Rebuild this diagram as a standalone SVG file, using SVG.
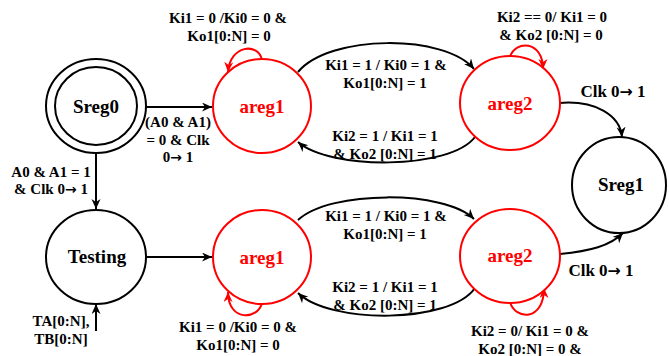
<svg xmlns="http://www.w3.org/2000/svg" width="669" height="356" viewBox="0 0 669 356">
  <defs>
    <marker id="ah" markerUnits="userSpaceOnUse" markerWidth="11" markerHeight="10" refX="10" refY="4.5" orient="auto">
      <path d="M0,0 L10,4.5 L0,9 L3,4.5 z" fill="#000"/>
    </marker>
    <marker id="ahr" markerUnits="userSpaceOnUse" markerWidth="11" markerHeight="10" refX="10" refY="4.5" orient="auto">
      <path d="M0,0 L10,4.5 L0,9 L3,4.5 z" fill="#f00"/>
    </marker>
    <style>
      .st { fill: #fff; stroke: #000; stroke-width: 2; }
      .ac { fill: #fff; stroke: #f00; stroke-width: 2; }
      .nm { font-family: "Liberation Serif", "Times New Roman", serif; font-weight: bold; font-size: 19px; text-anchor: middle; fill: #000; }
      .nmr { fill: #f00; }
      .lb { font-family: "Liberation Serif", "Times New Roman", serif; font-weight: bold; font-size: 15px; text-anchor: middle; fill: #000; }
      .clk { font-size: 17px; }
      .ar { font-family: "DejaVu Sans", sans-serif; font-weight: bold; font-size: 0.93em; }
      .ed { fill: none; stroke: #000; stroke-width: 2; marker-end: url(#ah); }
      .lp { fill: none; stroke: #f00; stroke-width: 2; marker-end: url(#ahr); }
    </style>
  </defs>

  <rect width="669" height="356" fill="#fff"/>

  <!-- transitions -->
  <g id="connectors">
    <path class="ed" d="M146,107 L212,107"/>
    <path class="ed" d="M96,153 L96,209"/>
    <path class="ed" d="M96,331 L96,304"/>
    <path class="ed" d="M146,257 L212,257"/>
    <path class="ed" d="M298,72 C330,34 445,34 474,69"/>
    <path class="ed" d="M475,137 C450,170 330,170 298,142"/>
    <path class="ed" d="M298,220 C330,190 445,190 474,219"/>
    <path class="ed" d="M475,288 C450,324 330,324 298,293"/>
    <path class="ed" d="M559,103 C595,100 620,115 622,137"/>
    <path class="ed" d="M560,254 C590,251 610,246 623,233"/>
    <path class="lp" d="M262,60 C258,42 230,45 228,72"/>
    <path class="lp" d="M510,57 C515,40 543,40 543,69"/>
    <path class="lp" d="M262,303 C258,320 228,322 228,292"/>
    <path class="lp" d="M510,302 C515,320 544,322 544,288"/>
  </g>

  <!-- states -->
  <g id="sreg0">
    <ellipse class="st" cx="96" cy="106" rx="50" ry="47"/>
    <ellipse class="st" cx="96" cy="106" rx="41" ry="39"/>
    <text class="nm" x="96" y="113">Sreg0</text>
  </g>
  <g id="testing">
    <ellipse class="st" cx="96" cy="257" rx="50" ry="47"/>
    <text class="nm" x="97" y="263">Testing</text>
  </g>
  <g id="areg1-top">
    <ellipse class="ac" cx="262" cy="106" rx="49" ry="47"/>
    <text class="nm nmr" x="262" y="113">areg1</text>
  </g>
  <g id="areg2-top">
    <ellipse class="ac" cx="510" cy="103" rx="50" ry="47"/>
    <text class="nm nmr" x="510" y="110">areg2</text>
  </g>
  <g id="areg1-bottom">
    <ellipse class="ac" cx="262" cy="257" rx="49" ry="47"/>
    <text class="nm nmr" x="262" y="264">areg1</text>
  </g>
  <g id="areg2-bottom">
    <ellipse class="ac" cx="510" cy="256" rx="50" ry="47"/>
    <text class="nm nmr" x="510" y="262">areg2</text>
  </g>
  <g id="sreg1">
    <ellipse class="st" cx="619" cy="185" rx="47" ry="48"/>
    <text class="nm" x="621" y="191">Sreg1</text>
  </g>

  <!-- transition labels -->
  <g id="labels">
    <text class="lb" x="228" y="23">Ki1 = 0 /Ki0 = 0 &amp;</text>
    <text class="lb" x="229" y="41">Ko1[0:N] = 0</text>
    <text class="lb" x="552" y="22">Ki2 == 0/ Ki1 = 0</text>
    <text class="lb" x="551" y="40">&amp; Ko2 [0:N] = 0</text>
    <text class="lb" x="386" y="70">Ki1 = 1 / Ki0 = 1 &amp;</text>
    <text class="lb" x="385" y="88">Ko1[0:N] = 1</text>
    <text class="lb" x="385" y="141">Ki2 = 1 / Ki1 = 1</text>
    <text class="lb" x="385" y="159">&amp; Ko2 [0:N] = 1</text>
    <text class="lb" x="178" y="127">(A0 &amp; A1)</text>
    <text class="lb" x="178" y="145">= 0 &amp; Clk</text>
    <text class="lb" x="178" y="162">0<tspan class="ar">→</tspan> 1</text>
    <text class="lb" x="51" y="177">A0 &amp; A1 = 1</text>
    <text class="lb" x="51" y="194">&amp; Clk 0<tspan class="ar">→</tspan> 1</text>
    <text class="lb clk" x="613" y="97">Clk 0<tspan class="ar">→</tspan> 1</text>
    <text class="lb" x="386" y="221">Ki1 = 1 / Ki0 = 1 &amp;</text>
    <text class="lb" x="385" y="239">Ko1[0:N] = 1</text>
    <text class="lb" x="385" y="292">Ki2 = 1 / Ki1 = 1</text>
    <text class="lb" x="385" y="310">&amp; Ko2 [0:N] = 1</text>
    <text class="lb clk" x="601" y="276">Clk 0<tspan class="ar">→</tspan> 1</text>
    <text class="lb" x="61" y="326">TA[0:N],</text>
    <text class="lb" x="61" y="344">TB[0:N]</text>
    <text class="lb" x="238" y="332">Ki1 = 0 /Ki0 = 0 &amp;</text>
    <text class="lb" x="238" y="350">Ko1[0:N] = 0</text>
    <text class="lb" x="530" y="336">Ki2 = 0/ Ki1 = 0 &amp;</text>
    <text class="lb" x="530" y="354">Ko2 [0:N] = 0 &amp;</text>
  </g>
</svg>
